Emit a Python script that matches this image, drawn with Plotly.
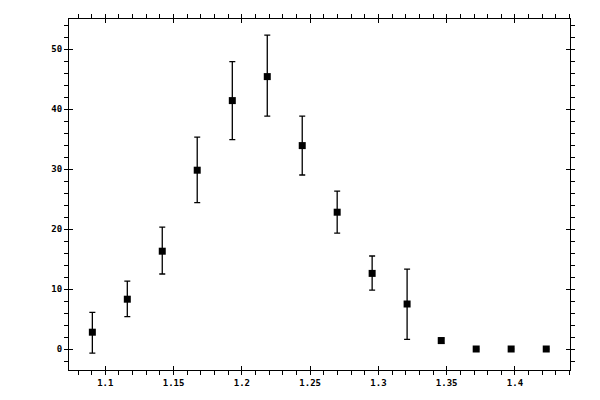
import plotly.graph_objects as go

x_vals = [1.0905, 1.1161, 1.1417, 1.1673, 1.1930, 1.2186, 1.2442,
          1.2698, 1.2954, 1.3210, 1.3460, 1.3716, 1.3972, 1.4229]
y_vals = [2.8, 8.3, 16.3, 29.8, 41.4, 45.4, 33.9,
          22.8, 12.6, 7.5, 1.4, 0.0, 0.0, 0.0]
err_up = [3.3, 3.0, 4.0, 5.5, 6.5, 6.9, 4.9,
          3.5, 2.9, 5.8, 0.45, 0.0, 0.0, 0.0]
err_down = [3.5, 2.9, 3.8, 5.4, 6.5, 6.6, 4.9,
            3.5, 2.8, 5.9, 0.45, 0.0, 0.0, 0.0]

x_range = [1.0734, 1.4403]
y_range = [-3.5, 55]

fig = go.Figure()

fig.add_trace(
    go.Scatter(
        x=x_vals,
        y=y_vals,
        mode="markers",
        marker={"symbol": "square", "size": 7, "color": "black"},
        error_y={
            "type": "data",
            "symmetric": False,
            "array": err_up,
            "arrayminus": err_down,
            "color": "black",
            "thickness": 1.3,
            "width": 3,
        },
        showlegend=False,
    )
)

# invisible copy on the overlay axes so the inward major ticks get drawn
fig.add_trace(
    go.Scatter(x=x_vals, y=y_vals, xaxis="x2", yaxis="y2", mode="markers",
               marker={"opacity": 0}, hoverinfo="skip", showlegend=False)
)

tick_font = {"family": "DejaVu Sans Mono", "size": 9, "color": "black", "weight": "bold"}

fig.update_layout(
    width=600,
    height=400,
    margin={"l": 61, "r": 38, "t": 11, "b": 38},
    paper_bgcolor="white",
    plot_bgcolor="white",
    xaxis={
        "range": x_range,
        "automargin": False,
        "tick0": 1.1,
        "dtick": 0.05,
        "ticks": "outside",
        "ticklen": 4,
        "tickcolor": "black",
        "minor": {"dtick": 0.01, "ticks": "outside", "ticklen": 4, "tickcolor": "black"},
        "showline": True,
        "linecolor": "black",
        "linewidth": 1,
        "mirror": "ticks",
        "showgrid": False,
        "zeroline": False,
        "tickfont": tick_font,
    },
    yaxis={
        "range": y_range,
        "automargin": False,
        "tick0": 0,
        "dtick": 10,
        "ticks": "outside",
        "ticklen": 4,
        "tickcolor": "black",
        "minor": {"dtick": 2, "ticks": "outside", "ticklen": 4, "tickcolor": "black"},
        "showline": True,
        "linecolor": "black",
        "linewidth": 1,
        "mirror": "ticks",
        "showgrid": False,
        "zeroline": False,
        "tickfont": tick_font,
    },
    xaxis2={
        "range": x_range,
        "automargin": False,
        "overlaying": "x",
        "tick0": 1.1,
        "dtick": 0.05,
        "ticks": "inside",
        "ticklen": 4,
        "tickcolor": "black",
        "mirror": "ticks",
        "showticklabels": False,
        "showgrid": False,
        "zeroline": False,
    },
    yaxis2={
        "range": y_range,
        "automargin": False,
        "overlaying": "y",
        "tick0": 0,
        "dtick": 10,
        "ticks": "inside",
        "ticklen": 4,
        "tickcolor": "black",
        "mirror": "ticks",
        "showticklabels": False,
        "showgrid": False,
        "zeroline": False,
    },
)

fig.write_html("out.html")
